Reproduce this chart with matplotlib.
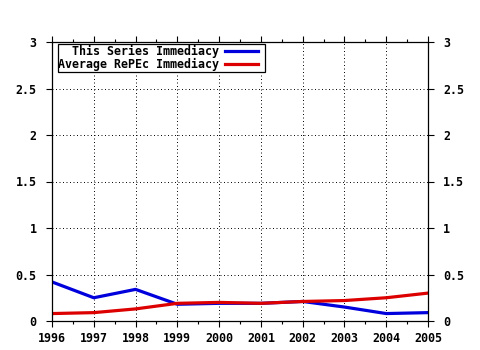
import matplotlib
matplotlib.use('Agg')
import matplotlib.pyplot as plt
from matplotlib.ticker import MultipleLocator, FuncFormatter
from matplotlib.patches import Rectangle
from matplotlib.lines import Line2D

# Data
years = [1996, 1997, 1998, 1999, 2000, 2001, 2002, 2003, 2004, 2005]
series_immediacy = [0.42, 0.25, 0.34, 0.18, 0.19, 0.19, 0.21, 0.15, 0.08, 0.09]
repec_immediacy = [0.08, 0.09, 0.13, 0.19, 0.20, 0.19, 0.21, 0.22, 0.25, 0.30]
labels = ['This Series Immediacy', 'Average RePEc Immediacy']

font = {'family': 'DejaVu Sans Mono', 'weight': 'bold', 'size': 8.4}

fig = plt.figure(figsize=(4.8, 3.5), dpi=100)
ax = fig.add_axes([52 / 480, 29 / 350, 376 / 480, 279 / 350])

ax.plot(years, series_immediacy, color='#0000dd', linewidth=2.3)
ax.plot(years, repec_immediacy, color='#dd0000', linewidth=2.3)

ax.set_xlim(1996, 2005)
ax.set_ylim(0, 3)
ax.xaxis.set_major_locator(MultipleLocator(1))
ax.xaxis.set_minor_locator(MultipleLocator(0.5))
ax.yaxis.set_major_locator(MultipleLocator(0.5))
ax.yaxis.set_major_formatter(FuncFormatter(lambda v, p: f'{v:g}'))

ax.grid(True, which='major', color='black', linestyle=(0, (1.0, 2.6)), linewidth=0.7)
ax.tick_params(which='both', direction='out', top=True, right=True,
               labelright=True, width=0.8, color='black')
ax.tick_params(which='major', length=4)
ax.tick_params(axis='x', which='major', pad=4)
ax.tick_params(axis='y', which='major', pad=7)
ax.tick_params(which='minor', length=2)
for lab in ax.get_xticklabels() + ax.get_yticklabels():
    lab.set(**font)
for tick in ax.yaxis.get_major_ticks():
    tick.label2.set(**font)
    tick.set_pad(7)
for s in ax.spines.values():
    s.set_linewidth(0.9)

# Legend box drawn by hand (text right aligned before the sample line)
ax.add_patch(Rectangle((0.016, 0.892), 0.55, 0.101, transform=ax.transAxes,
                       facecolor='white', edgecolor='black', linewidth=0.9, zorder=5))
rows_y = [0.966, 0.920]
colors = ['#0000dd', '#dd0000']
for lbl, yy, c in zip(labels, rows_y, colors):
    ax.text(0.443, yy, lbl, transform=ax.transAxes, ha='right', va='center',
            zorder=6, **font)
    ax.add_line(Line2D([0.460, 0.548], [yy, yy], transform=ax.transAxes,
                       color=c, linewidth=2.3, zorder=6))

fig.savefig('out.png', dpi=100)
